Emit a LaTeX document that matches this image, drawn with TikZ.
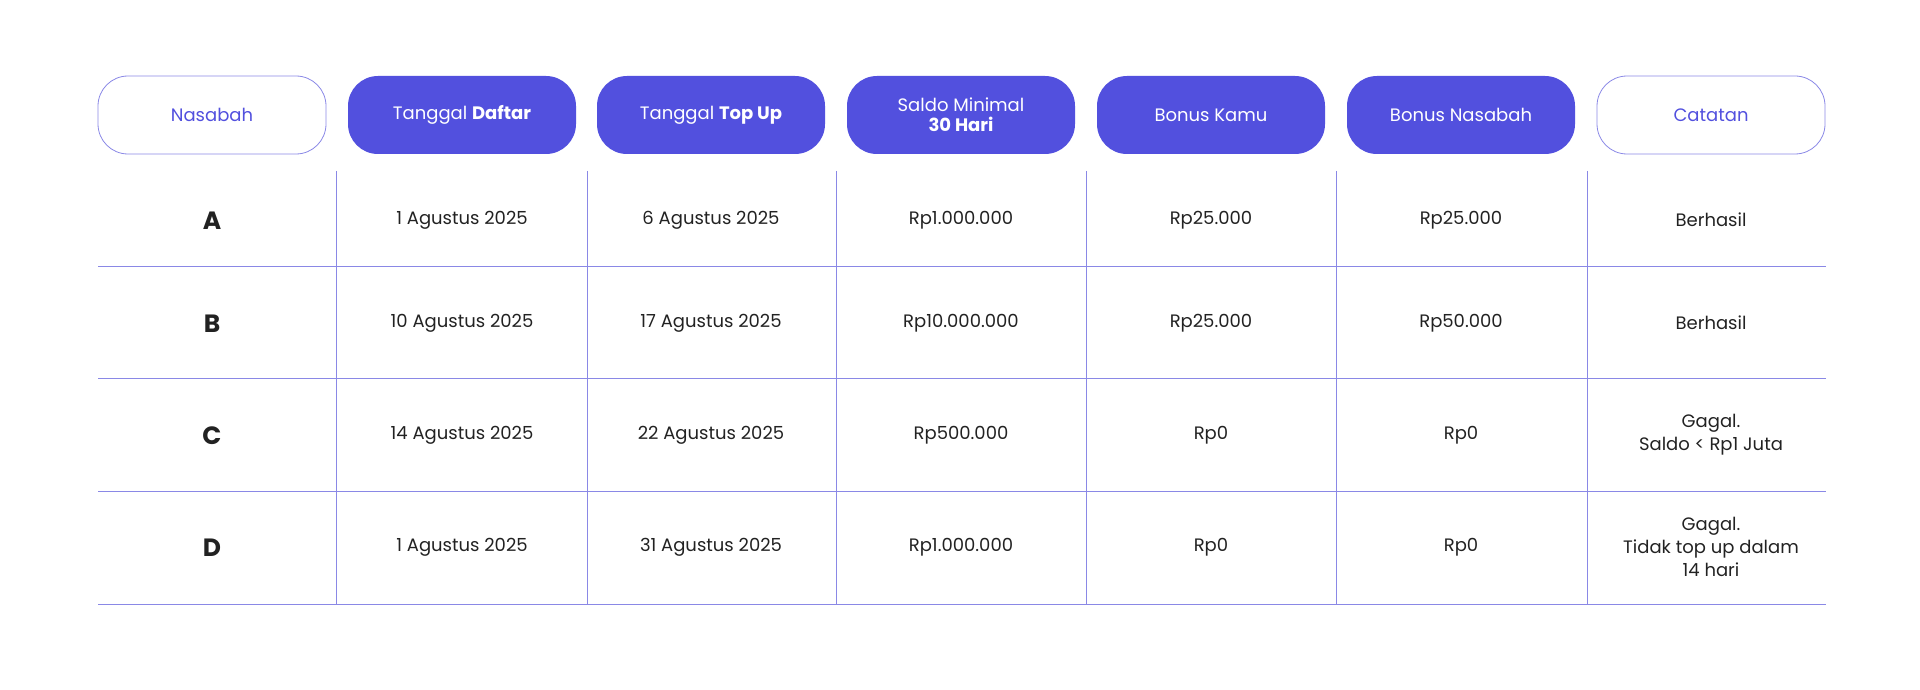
\documentclass[tikz,border=0pt]{standalone}
\usepackage{fontspec}
\setmainfont{Poppins}
\definecolor{ind}{HTML}{5250DE}
\definecolor{ln}{HTML}{8A88E6}
\definecolor{tx}{HTML}{222222}
\begin{document}
\begin{tikzpicture}[x=1pt,y=-1pt,
 hdr/.style={rounded corners=30pt,minimum width=228pt,minimum height=78pt,align=center,font=\fontsize{18}{22}\selectfont},
 hfill/.style={hdr,fill=ind,text=white},
 hline/.style={hdr,draw=ln,line width=0.8pt,text=ind},
 cell/.style={align=center,text=tx,font=\fontsize{18}{23}\selectfont},
 let/.style={text=tx,font=\fontsize{25}{29}\selectfont\bfseries},
 grid/.style={draw=ln,line width=0.9pt}]
\useasboundingbox (0,0) rectangle (1920,690);
\node[hline] (h1) at (212,115) {Nasabah};
\node[hfill] (h2) at (462,115) {Tanggal \textbf{Daftar}};
\node[hfill] (h3) at (711,115) {Tanggal \textbf{Top Up}};
\node[hfill] (h4) at (961,115) {Saldo Minimal\\[-2pt]\textbf{30 Hari}};
\node[hfill] (h5) at (1211,115) {Bonus Kamu};
\node[hfill] (h6) at (1461,115) {Bonus Nasabah};
\node[hline] (h7) at (1711,115) {Catatan};
\foreach \x in {336,587,836,1086,1336,1587} \draw[grid] (\x,171) -- (\x,604);
\foreach \y in {266,378,491,604} \draw[grid] (98,\y) -- (1826,\y);
\foreach \r/\y/\a/\b/\c/\d/\e/\f/\g in {
 A/220/1 Agustus 2025/6 Agustus 2025/Rp1.000.000/Rp25.000/Rp25.000/Berhasil/,
 B/323/10 Agustus 2025/17 Agustus 2025/Rp10.000.000/Rp25.000/Rp50.000/Berhasil/,
 C/435/14 Agustus 2025/22 Agustus 2025/Rp500.000/Rp0/Rp0/{Gagal.\\Saldo < Rp1 Juta}/,
 D/547/1 Agustus 2025/31 Agustus 2025/Rp1.000.000/Rp0/Rp0/{Gagal.\\Tidak top up dalam\\14 hari}/}{
 \node[let] (l\r) at (212,\y+1) {\r};
 \node[cell] (a\r) at (462,\y) {\a};
 \node[cell] (b\r) at (711,\y) {\b};
 \node[cell] (c\r) at (961,\y) {\c};
 \node[cell] (d\r) at (1211,\y) {\d};
 \node[cell] (e\r) at (1461,\y) {\e};
 \node[cell] (f\r) at (1711,\y) {\f};
}
\end{tikzpicture}
\end{document}
